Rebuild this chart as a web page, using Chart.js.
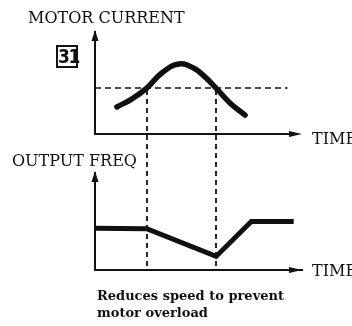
<!DOCTYPE html>
<html>
<head>
<meta charset="utf-8">
<script src="https://cdn.jsdelivr.net/npm/chart.js@4.4.1/dist/chart.umd.min.js"></script>
<style>
  html, body { margin: 0; padding: 0; background: #fff; }
  #wrap { position: relative; width: 352px; height: 326px; overflow: hidden; background: #fff; }
  #chart { position: absolute; left: 0; top: 0; }
  .lbl { position: absolute; font-family: 'DejaVu Serif', serif; color: #111; white-space: nowrap; line-height: 1; font-size: 16px; }
  .cap { font-weight: bold; font-size: 13px; }
  #fig { position: absolute; left: 56px; top: 45px; width: 18px; height: 19px; border: 2px solid #111;
         font-family: 'DejaVu Sans', sans-serif; font-weight: bold; font-stretch: condensed; font-size: 19px;
         line-height: 19px; text-align: center; color: #111; letter-spacing: -1.5px; }
</style>
</head>
<body>
<div id="wrap">
  <canvas id="chart" width="352" height="326"></canvas>
  <div class="lbl" style="left:28px; top:10px;">MOTOR CURRENT</div>
  <div id="fig">31</div>
  <div class="lbl" style="left:312px; top:131px;">TIME</div>
  <div class="lbl" style="left:12px; top:153px;">OUTPUT FREQ</div>
  <div class="lbl" style="left:312px; top:263px;">TIME</div>
  <div class="lbl cap" style="left:97px; top:289px;">Reduces speed to prevent</div>
  <div class="lbl cap" style="left:97px; top:306px;">motor overload</div>
</div>
<script>
// Time axis runs 0..10 for both panels; values are relative levels 0..10.
const timeCurrent  = [1.06, 1.79, 2.5, 3.24, 4.05, 4.78, 5.31, 5.85, 6.52, 7.25];
const motorCurrent = [2.65, 3.45, 4.5, 6.0, 6.86, 6.45, 5.6, 4.5, 3.05, 1.85];

// Overload threshold (dashed) and the moments the current crosses it
const limitTime    = [0, 9.3];
const currentLimit = 4.5;
const crossTimes   = [2.5, 5.85];

const timeFreq   = [0, 2.5, 5.85, 7.55, 9.6];
const outputFreq = [4.3, 4.25, 1.4, 5.0, 5.0];

const ink = '#111';

const toPoints = (xs, ys) => xs.map((t, i) => ({ x: t, y: ys[i] }));

function arrowRight(ctx, tipX, y) {
  ctx.beginPath();
  ctx.moveTo(tipX, y);
  ctx.lineTo(tipX - 13, y - 3);
  ctx.lineTo(tipX - 13, y + 3);
  ctx.closePath();
  ctx.fill();
}
function arrowUp(ctx, x, tipY) {
  ctx.beginPath();
  ctx.moveTo(x, tipY);
  ctx.lineTo(x - 3.5, tipY + 11);
  ctx.lineTo(x + 3.5, tipY + 11);
  ctx.closePath();
  ctx.fill();
}
// dashed vertical drawn segment by segment
function dashedVertical(ctx, x, yTop, yBottom, on, off) {
  ctx.beginPath();
  for (let y = yTop; y < yBottom; y += on + off) {
    ctx.moveTo(x, y);
    ctx.lineTo(x, Math.min(y + on, yBottom));
  }
  ctx.stroke();
}

// Second time axis under the current panel, arrow heads, and the dashed guides
const axesAndGuides = {
  id: 'axesAndGuides',
  afterDraw(chart) {
    const { ctx, chartArea, scales: { x, yCur, yFreq } } = chart;
    ctx.save();
    ctx.strokeStyle = ink;
    ctx.fillStyle = ink;

    ctx.lineWidth = 1.8;
    crossTimes.forEach(t => {
      const px = Math.round(x.getPixelForValue(t));
      dashedVertical(ctx, px, yCur.getPixelForValue(currentLimit) + 2, x.top, 5, 4);
    });

    ctx.lineWidth = 2;
    const y0 = yCur.getPixelForValue(0);
    ctx.beginPath();
    ctx.moveTo(chartArea.left - 1, y0);
    ctx.lineTo(chartArea.right - 6, y0);
    ctx.stroke();
    arrowRight(ctx, chartArea.right, y0);
    arrowRight(ctx, chartArea.right, x.top);
    arrowUp(ctx, chartArea.left, yCur.top - 2);
    arrowUp(ctx, chartArea.left, yFreq.top - 2);
    ctx.restore();
  }
};

const hiddenTicks = { display: false };
const noGrid = { display: false, drawTicks: false };

new Chart(document.getElementById('chart'), {
  type: 'line',
  data: {
    datasets: [
      {
        data: toPoints(timeCurrent, motorCurrent),
        yAxisID: 'yCur',
        borderColor: ink,
        borderWidth: 5.5,
        tension: 0.45,
        borderCapStyle: 'round',
        pointRadius: 0
      },
      {
        data: toPoints(limitTime, limitTime.map(() => currentLimit)),
        yAxisID: 'yCur',
        borderColor: ink,
        borderWidth: 1.5,
        borderDash: [6, 4],
        pointRadius: 0
      },
      {
        data: toPoints(timeFreq, outputFreq),
        yAxisID: 'yFreq',
        borderColor: ink,
        borderWidth: 5,
        borderJoinStyle: 'miter',
        tension: 0,
        pointRadius: 0,
        clip: false
      }
    ]
  },
  options: {
    responsive: false,
    animation: false,
    events: [],
    layout: { padding: { left: 95, top: 32, right: 50, bottom: 56 } },
    plugins: { legend: { display: false }, tooltip: { enabled: false } },
    scales: {
      x: {
        type: 'linear', min: 0, max: 10,
        ticks: hiddenTicks, grid: noGrid,
        border: { display: true, color: ink, width: 2 }
      },
      yCur: {
        type: 'linear', position: 'left', stack: 'panels', stackWeight: 102, weight: 3,
        min: 0, max: 10,
        ticks: hiddenTicks, grid: noGrid,
        border: { display: true, color: ink, width: 2 }
      },
      yGap: {
        type: 'linear', position: 'left', stack: 'panels', stackWeight: 39, weight: 2,
        min: 0, max: 1,
        ticks: hiddenTicks, grid: noGrid,
        border: { display: false }
      },
      yFreq: {
        type: 'linear', position: 'left', stack: 'panels', stackWeight: 97, weight: 1,
        min: 0, max: 10,
        ticks: hiddenTicks, grid: noGrid,
        border: { display: true, color: ink, width: 2 }
      }
    }
  },
  plugins: [axesAndGuides]
});
</script>
</body>
</html>
